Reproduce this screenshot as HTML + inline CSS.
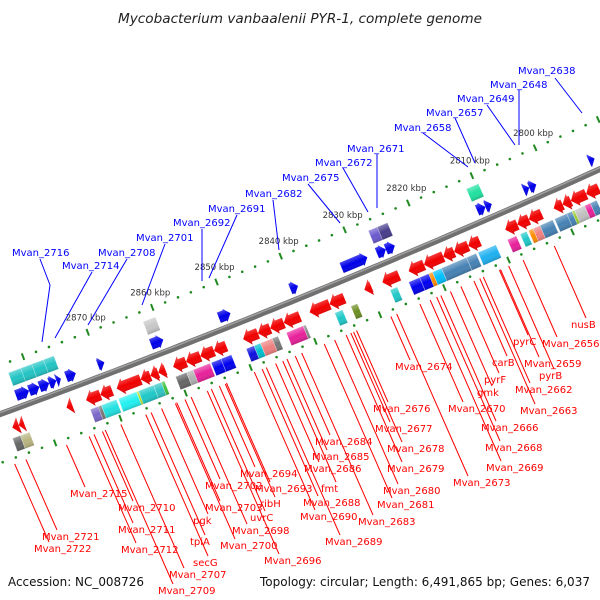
<!DOCTYPE html>
<html><head><meta charset="utf-8"><style>
html,body{margin:0;padding:0;background:#fff;}
svg{display:block;}
text{font-family:"DejaVu Sans","Liberation Sans",sans-serif;}
</style></head><body>
<svg id="map" width="600" height="600" viewBox="0 0 600 600" xmlns="http://www.w3.org/2000/svg">
<defs>
<linearGradient id="shade" x1="0" y1="0" x2="0" y2="1">
<stop offset="0" stop-color="#fff" stop-opacity="0.35"/>
<stop offset="0.5" stop-color="#fff" stop-opacity="0"/>
<stop offset="1" stop-color="#000" stop-opacity="0.18"/>
</linearGradient>
</defs>
<text x="300" y="23" text-anchor="middle" font-size="13" font-style="italic" fill="#222" textLength="364" lengthAdjust="spacingAndGlyphs">Mycobacterium vanbaalenii PYR-1, complete genome</text>
<g id="tracks"></g>
<g id="features"></g>
<g id="labels"></g>
<text x="8" y="586" font-size="12" fill="#111" textLength="136" lengthAdjust="spacingAndGlyphs">Accession: NC_008726</text>
<text x="260" y="586" font-size="12" fill="#111" textLength="330" lengthAdjust="spacingAndGlyphs">Topology: circular; Length: 6,491,865 bp; Genes: 6,037</text>
</svg>
<script>
// ---- data (kbp) ----
const redGenes = [[2885.0,2884.0],[2884.0,2883.2],[2876.7,2875.8],[2873.7,2871.5],[2871.5,2869.7],[2869.0,2865.3],[2865.3,2863.8],[2863.8,2862.6],[2862.6,2861.5],[2860.3,2858.3],[2858.3,2856.1],[2856.1,2854.0],[2854.0,2852.1],[2849.5,2847.2],[2847.2,2845.3],[2845.3,2843.2],[2843.2,2840.7],[2839.2,2836.1],[2836.1,2833.8],[2830.7,2829.6],[2827.9,2825.3],[2823.8,2821.4],[2821.4,2818.4],[2818.4,2816.7],[2816.7,2814.5],[2814.5,2812.7],[2808.7,2806.8],[2806.8,2805.0],[2805.0,2803.0],[2801.1,2799.7],[2799.7,2798.4],[2798.4,2796.0],[2796.0,2794.0]];
const blueGenes = [[2882.9,2880.9],[2880.9,2879.3],[2879.3,2877.8],[2877.8,2876.7],[2876.7,2876.0],[2875.2,2873.7],[2870.3,2869.3],[2862.1,2860.2],[2851.6,2849.8],[2840.5,2839.3],[2832.5,2828.5],[2827.0,2825.6],[2825.6,2824.2],[2811.3,2810.0],[2810.0,2809.0],[2804.0,2803.1],[2803.1,2802.0],[2793.7,2792.8]];
const upperBoxes = [[2882.8,2880.9,"#22c4c4"],[2880.9,2879.2,"#22c4c4"],[2879.2,2877.4,"#22c4c4"],[2877.4,2875.8,"#22c4c4"],[2862.0,2860.1,"#c8c8c8"],[2826.9,2825.5,"#6a5acd"],[2825.5,2823.9,"#483d8b"],[2811.5,2809.6,"#20e0a0"]];
const lowerBoxes = [[2885.5,2884.3,"#666666"],[2884.3,2882.9,"#b8b480"],[2873.6,2872.4,"#7b68c8"],[2872.4,2871.9,"#777777"],[2871.9,2869.6,"#22e0e0"],[2869.3,2866.5,"#22f0f0"],[2866.5,2866.2,"#b0e020"],[2866.2,2863.9,"#20c8c8"],[2863.9,2862.7,"#30c4c4"],[2862.7,2862.2,"#40c040"],[2860.5,2858.8,"#666666"],[2858.8,2857.8,"#b0b0b0"],[2857.8,2855.2,"#e8209a"],[2855.0,2853.5,"#0000ee"],[2853.5,2851.9,"#0000ee"],[2849.6,2848.4,"#1010e0"],[2848.4,2847.4,"#00c0d0"],[2847.4,2845.6,"#f08080"],[2845.6,2844.7,"#777777"],[2843.4,2840.8,"#e8209a"],[2840.8,2840.4,"#888888"],[2835.9,2834.7,"#20c8c8"],[2833.4,2832.4,"#6b8e23"],[2827.3,2826.2,"#20c8c8"],[2824.4,2822.7,"#0000ee"],[2822.7,2821.3,"#0000ee"],[2821.3,2820.7,"#ff8c00"],[2820.7,2819.3,"#00bfff"],[2819.3,2815.4,"#4682b4"],[2815.4,2813.9,"#4682b4"],[2813.6,2810.8,"#1eb0f0"],[2809.0,2807.6,"#e8209a"],[2807.0,2806.0,"#20c8c8"],[2805.7,2805.0,"#ff8c00"],[2805.0,2803.9,"#f08080"],[2803.9,2801.9,"#4682b4"],[2801.6,2799.7,"#4682b4"],[2799.7,2798.9,"#4682b4"],[2798.9,2798.5,"#9acd32"],[2798.5,2796.9,"#c0c0c0"],[2796.9,2796.0,"#e8209a"],[2796.0,2795.0,"#4682b4"]];
const tickKbp = [2870,2860,2850,2840,2830,2820,2810,2800];
const redLabels = [["Mvan_2721",42,540],["Mvan_2722",34,552],["Mvan_2715",70,497],["Mvan_2710",118,511],["Mvan_2711",118,533],["Mvan_2712",121,553],["pgk",193,524],["tpiA",190,545],["secG",193,566],["Mvan_2707",169,578],["Mvan_2709",158,594],["Mvan_2702",205,489],["Mvan_2703",205,511],["Mvan_2694",240,477],["Mvan_2693",255,492],["ribH",260,507],["uvrC",250,521],["Mvan_2698",232,534],["Mvan_2700",220,549],["Mvan_2696",264,564],["Mvan_2684",315,445],["Mvan_2685",312,460],["Mvan_2686",304,472],["fmt",321,492],["Mvan_2688",303,506],["Mvan_2690",300,520],["Mvan_2689",325,545],["Mvan_2683",358,525],["Mvan_2681",377,508],["Mvan_2680",383,494],["Mvan_2679",387,472],["Mvan_2678",387,452],["Mvan_2677",375,432],["Mvan_2676",373,412],["Mvan_2674",395,370],["Mvan_2673",453,486],["Mvan_2670",448,412],["gmk",477,396],["pyrF",484,383],["Mvan_2666",481,431],["Mvan_2668",485,451],["Mvan_2669",486,471],["carB",492,366],["pyrC",513,345],["Mvan_2659",524,367],["pyrB",539,379],["Mvan_2662",515,393],["Mvan_2663",520,414],["Mvan_2656",542,347],["nusB",571,328]];
const blueLabels = [["Mvan_2716",12,256,"40,259 50,285 42,342"],["Mvan_2714",62,269,"92,272 55,338"],["Mvan_2708",98,256,"127,259 88,325"],["Mvan_2701",136,241,"165,244 142,305"],["Mvan_2692",173,226,"202,229 202,281"],["Mvan_2691",208,212,"237,215 209,278"],["Mvan_2682",245,197,"273,200 279,250"],["Mvan_2675",282,181,"308,184 340,223"],["Mvan_2672",315,166,"343,168 368,212"],["Mvan_2671",347,152,"377,154 377,208"],["Mvan_2658",394,131,"423,133 468,167"],["Mvan_2657",426,116,"455,118 475,163"],["Mvan_2649",457,102,"487,105 515,145"],["Mvan_2648",490,88,"519,90 519,145"],["Mvan_2638",518,74,"555,78 582,113"]];

// ---- geometry ----
const NS="http://www.w3.org/2000/svg";
const C={x:300,y:298}, R=9000, PHI0=-22.2*Math.PI/180, KC=2839.7, PX=6.95;
const O={x:C.x+R*Math.sin(PHI0), y:C.y-R*Math.cos(PHI0)};
function uOf(k){return (KC-k)*PX;}
function phiOf(u){return PHI0-u/R;}
function place(u,v){const p=phiOf(u);return {x:O.x+(R+v)*(-Math.sin(p)), y:O.y+(R+v)*Math.cos(p), p:p};}
function mk(tag,attrs,parent){const e=document.createElementNS(NS,tag);for(const k in attrs)e.setAttribute(k,attrs[k]);parent.appendChild(e);return e;}
const tracks=document.getElementById('tracks'), feats=document.getElementById('features'), labs=document.getElementById('labels');

// backbone
let d="";for(let u=-360;u<=360;u+=10){const P=place(u,0);d+=(u===-360?"M":"L")+P.x.toFixed(1)+","+P.y.toFixed(1);}
const bb=mk('path',{d:d,stroke:'#707070','stroke-width':6,fill:'none'},tracks);


let d2="";for(let u=-360;u<=360;u+=10){const P=place(u,-1.5);d2+=(u===-360?"M":"L")+P.x.toFixed(1)+","+P.y.toFixed(1);}
mk('path',{d:d2,stroke:'#a0a0a0','stroke-width':1.5,fill:'none'},tracks);

// dotted scale tracks
[-46,46].forEach(v=>{
  for(let k=2788;k<=2888;k+=2){
    if(v<0 && k>2883) continue;
    const u=uOf(k);const P=place(u,v);
    if(k%10===0){
      const a=place(u,v-3.5), b=place(u,v+3.5);
      const t=mk('line',{x1:a.x,y1:a.y,x2:b.x,y2:b.y,stroke:'#1f8a1f','stroke-width':2},tracks);
      
      
    } else {
      const c=mk('circle',{cx:P.x,cy:P.y,r:1.3,fill:'#1f8a1f'},tracks);
      
      
    }
  }
});
tickKbp.forEach(k=>{
  const P=place(uOf(k),-46);
  const t=mk('text',{x:P.x-2,y:P.y-12,'text-anchor':'middle','font-size':8.5,fill:'#333'},tracks);
  t.textContent=k+" kbp";
  
  
});

// features
function arrow(k1,k2,v,color,dir,name){
  const u1=uOf(k1),u2=uOf(k2),um=(u1+u2)/2,L=Math.abs(u2-u1);
  const P=place(um,v);
  const g=mk('g',{transform:`translate(${P.x.toFixed(2)},${P.y.toFixed(2)}) rotate(${(P.p*180/Math.PI).toFixed(2)})`},feats);
  
  
  const bh=5.5, hh=dir>0?7:8.5, hl=Math.min(L,dir>0?6:7);
  const h=L/2;
  let pts=[[-h,-bh],[h-hl,-bh],[h-hl,-hh],[h,0],[h-hl,hh],[h-hl,bh],[-h,bh]];
  if(dir<0) pts=pts.map(q=>[-q[0],q[1]]);
  const s=pts.map(q=>q[0].toFixed(2)+","+q[1]).join(" ");
  mk('polygon',{points:s,fill:color},g);
  mk('polygon',{points:s,fill:'url(#shade)'},g);
}
function box(k1,k2,v,color,name){
  const u1=uOf(k1),u2=uOf(k2),um=(u1+u2)/2,L=Math.abs(u2-u1);
  const P=place(um,v);
  const g=mk('g',{transform:`translate(${P.x.toFixed(2)},${P.y.toFixed(2)}) rotate(${(P.p*180/Math.PI).toFixed(2)})`},feats);
  
  
  mk('rect',{x:-L/2,y:-7,width:L,height:14,fill:color,stroke:'rgba(255,255,255,0.5)','stroke-width':0.5},g);
  mk('rect',{x:-L/2,y:-7,width:L,height:14,fill:'url(#shade)'},g);
}
redGenes.forEach(g=>arrow(g[0],g[1],17,'#f00000',-1,'reverse-gene'));
blueGenes.forEach(g=>arrow(g[0],g[1],-12,'#0000e8',1,'forward-gene'));
upperBoxes.forEach(b=>box(b[0],b[1],-29,b[2],'forward-cog-box'));
lowerBoxes.forEach(b=>box(b[0],b[1],34,b[2],'reverse-cog-box'));

// labels
blueLabels.forEach(l=>{
  const pl=mk('polyline',{points:l[3],fill:'none',stroke:'#0000ff','stroke-width':1},labs);
  
  
  const t=mk('text',{x:l[1],y:l[2],'font-size':10,fill:'#0000ff'},labs);
  t.textContent=l[0];
  
  
});
redLabels.forEach(l=>{
  const E={x:l[1]+15,y:l[2]-10};
  let S=E;
  for(let t=0;t<500;t+=0.5){
    const P={x:E.x-0.44*t,y:E.y-t};
    const dist=Math.hypot(P.x-O.x,P.y-O.y)-R;
    if(dist<=52){S=P;break;}
  }
  const ln=mk('line',{x1:S.x,y1:S.y,x2:E.x,y2:E.y,stroke:'#ff0000','stroke-width':1},labs);
  
  
  const t=mk('text',{x:l[1],y:l[2],'font-size':10,fill:'#ff0000'},labs);
  t.textContent=l[0];
  
  
});
</script>
</body></html>
